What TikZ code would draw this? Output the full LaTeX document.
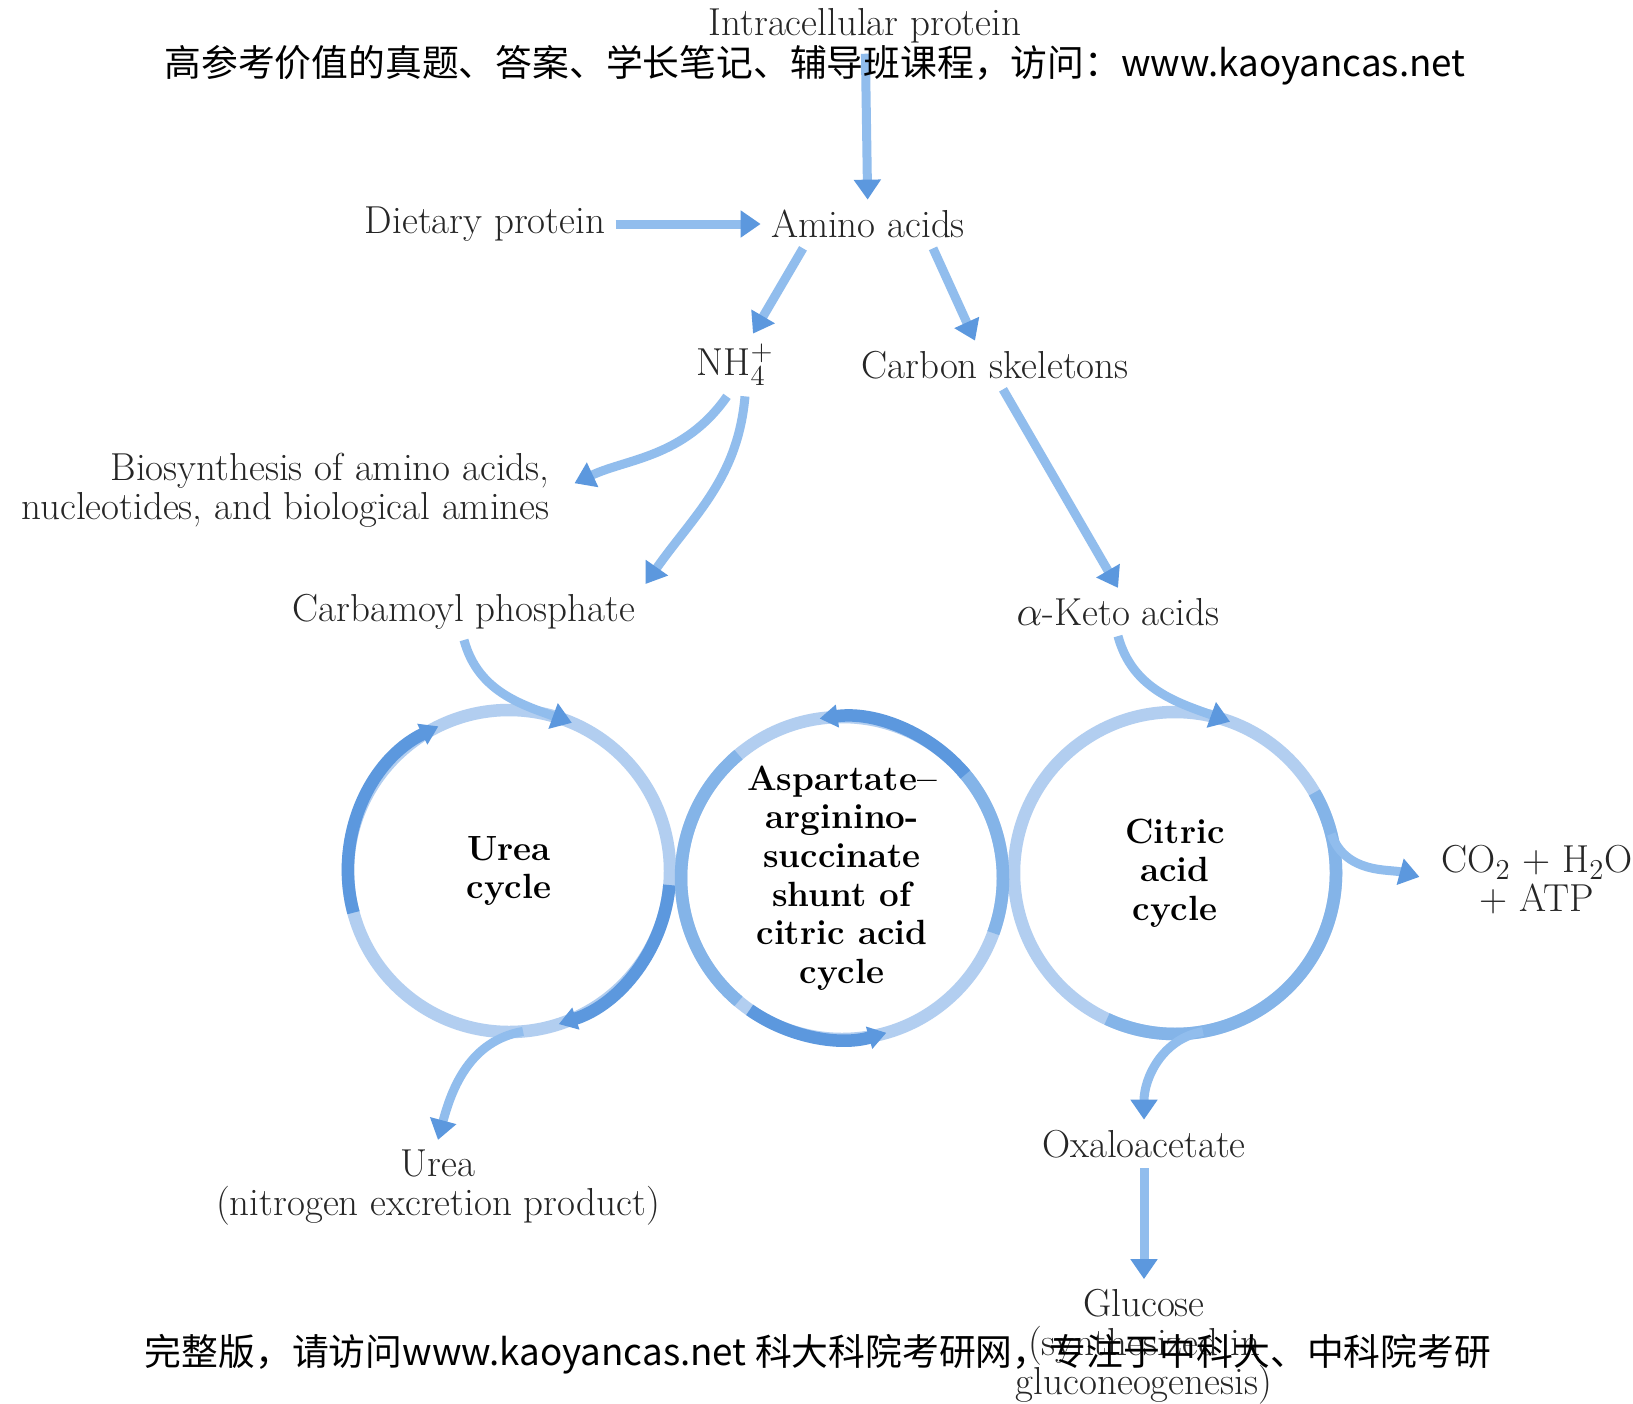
\documentclass[tikz,border=0pt]{standalone}
\usepackage{fontspec}
\usepackage{tikz}
\usetikzlibrary{calc}
\usetikzlibrary{arrows.meta}
\usetikzlibrary{positioning}
\newfontfamily\cjk{Noto Sans CJK SC}
\definecolor{lightring}{RGB}{178,206,240}
\definecolor{midring}{RGB}{132,180,232}
\definecolor{darkring}{RGB}{92,152,222}
\definecolor{flowblue}{RGB}{145,189,237}
\tikzset{
    mol/.style={
           font=\fontsize{19.5}{19.5}\selectfont,
           inner sep=5pt,
           align=center,
           text=black!85,
           },
    cyclename/.style={
           font=\fontsize{17.5}{19.3}\selectfont\bfseries,
           align=center,
           },
    flow/.style={
           draw=flowblue, line width=4.5pt,
           -{Triangle[length=10pt,width=13pt,color=darkring]},
           },
    ring/.style={draw=lightring, line width=6.25pt},
    ringpart/.style={draw=midring, line width=6.25pt},
    ringarrow/.style={
           draw=darkring, line width=6.25pt,
           -{Triangle[length=9pt,width=11pt]},
           },
    wm/.style={font=\cjk\fontsize{18.4}{20}\selectfont, inner sep=0pt},
}
\begin{document}
\begin{tikzpicture}[x=0.5pt,y=0.5pt]
   \useasboundingbox[fill=white] (0,0) rectangle (1633,-1403);
   % substrates and products
   \node[mol] (intra)     at (865,-26)  {Intracellular protein};
   \node[mol] (amino)     at (868,-224) {Amino acids};
   \node[mol] (dietary)   at (485,-224) {Dietary protein};
   \node[mol] (nh4)       at (735,-365) {NH$_4^+$};
   \node[mol] (carbon)    at (995,-365) {Carbon skeletons};
   \node[mol, align=right, anchor=east] (biosyn) at (560,-490)
        {Biosynthesis of amino acids,\\nucleotides, and biological amines};
   \node[mol] (carbamoyl) at (464,-612) {Carbamoyl phosphate};
   \node[mol] (keto)      at (1118,-612) {$\alpha$-Keto acids};
   \node[mol] (co2)       at (1537,-880) {CO$_2$ + H$_2$O\\+ ATP};
   \node[mol] (ureaprod)  at (438,-1188) {Urea\\(nitrogen excretion product)};
   \node[mol] (oxalo)     at (1144,-1144) {Oxaloacetate};
   \node[mol] (glucose)   at (1144,-1347) {Glucose\\(synthesized in\\gluconeogenesis)};
   % the three cycles
   \node[cyclename] (urea)   at (509,-871)  {Urea\\cycle};
   \node[cyclename] (shunt)  at (842,-878)  {Aspartate--\\arginino-\\succinate\\shunt of\\citric acid\\cycle};
   \node[cyclename] (citric) at (1175,-873) {Citric\\acid\\cycle};
   \foreach \c in {urea,shunt,citric}
       \draw[ring] (\c.center) circle[radius=161];
   \draw[ringarrow] ([shift={(195:161)}]urea.center) arc[start angle=195, end angle=116, radius=161];
   \draw[ringarrow] ([shift={(-5:161)}]urea.center) arc[start angle=-5, end angle=-72, radius=161];
   \draw[ringpart]  ([shift={(130:161)}]shunt.center) arc[start angle=130, end angle=230, radius=161];
   \draw[ringpart]  ([shift={(-20:161)}]shunt.center) arc[start angle=-20, end angle=42, radius=161];
   \draw[ringarrow] ([shift={(40:161)}]shunt.center) arc[start angle=40, end angle=98, radius=161];
   \draw[ringarrow] ([shift={(-125:161)}]shunt.center) arc[start angle=-125, end angle=-74, radius=161];
   \draw[ringpart]  ([shift={(30:161)}]citric.center) arc[start angle=30, end angle=-115, radius=161];
   % flows
   \draw[flow] (intra) -- (amino);
   \draw[flow] (dietary) -- (amino);
   \draw[flow] ($(amino.south)+(-65,0)$) -- ($(nh4.north)+(18,0)$);
   \draw[flow] ($(amino.south)+(65,0)$) -- ($(carbon.north)+(-20,0)$);
   \draw[flow, shorten >=8pt] ($(nh4.south)+(-8,0)$) to[out=-125,in=25] (biosyn.east);
   \draw[flow] ($(nh4.south)+(10,0)$) to[out=-95,in=55] (carbamoyl.north east);
   \draw[flow] ($(carbon.south)+(8,0)$) -- (keto.north);
   \draw[flow] (carbamoyl.south) to[out=-75,in=160] ([shift={(67:161)}]urea.center);
   \draw[flow] (keto.south) to[out=-75,in=160] ([shift={(70:161)}]citric.center);
   \draw[flow, shorten >=6pt] ([shift={(14:161)}]citric.center) to[out=-70,in=165] (co2.west);
   \draw[flow] ([shift={(-85:161)}]urea.center) to[out=190,in=75] (ureaprod.north);
   \draw[flow] ([shift={(-80:161)}]citric.center) to[out=190,in=90] (oxalo.north);
   \draw[flow] (oxalo) -- (glucose);
   % watermarks
   \node[wm] (wmtop)    at (815,-65)   {高参考价值的真题、答案、学长笔记、辅导班课程，访问：www.kaoyancas.net};
   \node[wm] (wmbottom) at (818,-1354) {完整版，请访问www.kaoyancas.net 科大科院考研网，专注于中科大、中科院考研};
\end{tikzpicture}
\end{document}
